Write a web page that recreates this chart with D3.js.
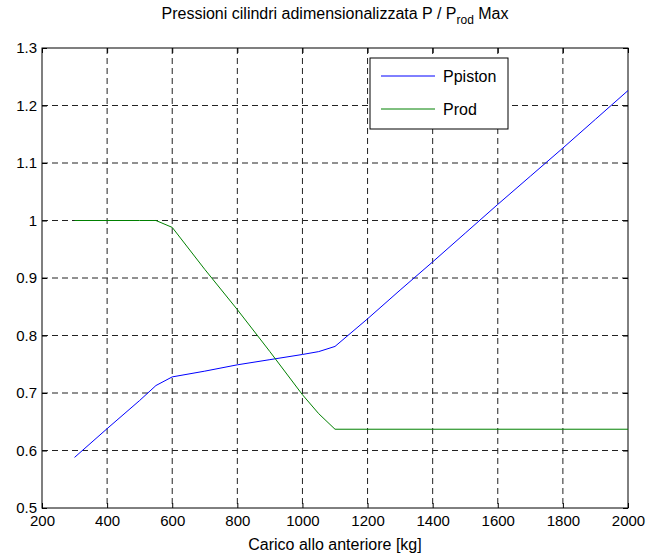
<!DOCTYPE html>
<html>
<head>
<meta charset="utf-8">
<script src="https://cdn.jsdelivr.net/npm/d3@7"></script>
<style>
  body { margin: 0; background: #fff; }
  text { font-family: "Liberation Sans", Arial, sans-serif; }
</style>
</head>
<body>
<div id="chart"></div>
<script>
// data
const pistonX = [300, 400, 500, 550, 600, 700, 800, 900, 1000, 1050, 1100, 1200, 1300, 1400, 1500, 1600, 1700, 1800, 1900, 2000];
const pistonY = [0.588, 0.638, 0.687, 0.713, 0.728, 0.738, 0.749, 0.758, 0.767, 0.772, 0.781, 0.829, 0.879, 0.928, 0.978, 1.028, 1.077, 1.126, 1.176, 1.226];
const rodX = [300, 400, 500, 550, 600, 700, 800, 900, 1000, 1050, 1100, 1200, 1400, 1600, 1800, 2000];
const rodY = [1, 1, 1, 1, 0.988, 0.915, 0.845, 0.772, 0.697, 0.664, 0.637, 0.637, 0.637, 0.637, 0.637, 0.637];
const xTicks = [200, 400, 600, 800, 1000, 1200, 1400, 1600, 1800, 2000];
const yTicks = [0.5, 0.6, 0.7, 0.8, 0.9, 1, 1.1, 1.2, 1.3];
const seriesNames = ['Ppiston', 'Prod'];
const seriesColors = ['#0000ff', '#008000'];

const W = 648, H = 558;
const margin = { top: 48, right: 20, bottom: 50, left: 42 };
const width = W - margin.left - margin.right;
const height = H - margin.top - margin.bottom;

const svg = d3.select('#chart')
    .append('svg')
    .attr('width', W)
    .attr('height', H);

const g = svg.append('g')
    .attr('transform', 'translate(' + margin.left + ',' + margin.top + ')');

const x = d3.scaleLinear().domain([200, 2000]).range([0, width]);
const y = d3.scaleLinear().domain([0.5, 1.3]).range([height, 0]);

// grid
g.append('g')
    .selectAll('line')
    .data(xTicks.slice(1, -1))
    .enter()
    .append('line')
    .attr('x1', d => x(d)).attr('x2', d => x(d))
    .attr('y1', 0).attr('y2', height)
    .attr('stroke', '#222')
    .attr('stroke-dasharray', '6,4');

g.append('g')
    .selectAll('line')
    .data(yTicks.slice(1, -1))
    .enter()
    .append('line')
    .attr('x1', 0).attr('x2', width)
    .attr('y1', d => y(d)).attr('y2', d => y(d))
    .attr('stroke', '#222')
    .attr('stroke-dasharray', '6,4');

// axes, ticks inside
const fmt = d => (d === 1 ? '1' : d3.format('.1f')(d));
g.append('g')
    .attr('transform', 'translate(0,' + height + ')')
    .call(d3.axisBottom(x).tickValues(xTicks).tickSize(-5).tickPadding(7).tickFormat(d3.format('d')))
    .call(a => a.select('.domain').remove())
    .selectAll('text').attr('font-size', 15).attr('fill', '#000');
g.append('g')
    .call(d3.axisTop(x).tickValues(xTicks).tickSize(-5).tickFormat(''))
    .call(a => a.select('.domain').remove());
g.append('g')
    .call(d3.axisLeft(y).tickValues(yTicks).tickSize(-5).tickPadding(5).tickFormat(fmt))
    .call(a => a.select('.domain').remove())
    .selectAll('text').attr('font-size', 15).attr('fill', '#000');
g.append('g')
    .attr('transform', 'translate(' + width + ',0)')
    .call(d3.axisRight(y).tickValues(yTicks).tickSize(-5).tickFormat(''))
    .call(a => a.select('.domain').remove());

g.append('rect')
    .attr('width', width).attr('height', height)
    .attr('fill', 'none').attr('stroke', '#000');

// lines
const line = d3.line().x(d => x(d[0])).y(d => y(d[1]));
const series = [
    d3.zip(pistonX, pistonY),
    d3.zip(rodX, rodY)
];
g.selectAll('.series')
    .data(series)
    .enter()
    .append('path')
    .attr('class', 'series')
    .attr('d', line)
    .attr('fill', 'none')
    .attr('stroke', (d, i) => seriesColors[i])
    .attr('stroke-width', 1);

// legend
const leg = svg.append('g').attr('transform', 'translate(370,58)');
leg.append('rect')
    .attr('width', 138).attr('height', 71)
    .attr('fill', '#fff').attr('stroke', '#000');
seriesNames.forEach((name, i) => {
    const ly = 18 + i * 33;
    leg.append('line')
        .attr('x1', 11).attr('x2', 65)
        .attr('y1', ly).attr('y2', ly)
        .attr('stroke', seriesColors[i]);
    leg.append('text')
        .attr('x', 73).attr('y', ly + 6)
        .attr('font-size', 16)
        .text(name);
});

// title
const title = svg.append('text')
    .attr('x', margin.left + width / 2)
    .attr('y', 19)
    .attr('text-anchor', 'middle')
    .attr('font-size', 16);
title.append('tspan').text('Pressioni cilindri adimensionalizzata P / P');
title.append('tspan').attr('dy', 5).attr('font-size', 12).text('rod');
title.append('tspan').attr('dy', -5).text(' Max');

// x label
svg.append('text')
    .attr('x', margin.left + width / 2)
    .attr('y', 550)
    .attr('text-anchor', 'middle')
    .attr('font-size', 16)
    .text('Carico allo anteriore [kg]');
</script>
</body>
</html>
